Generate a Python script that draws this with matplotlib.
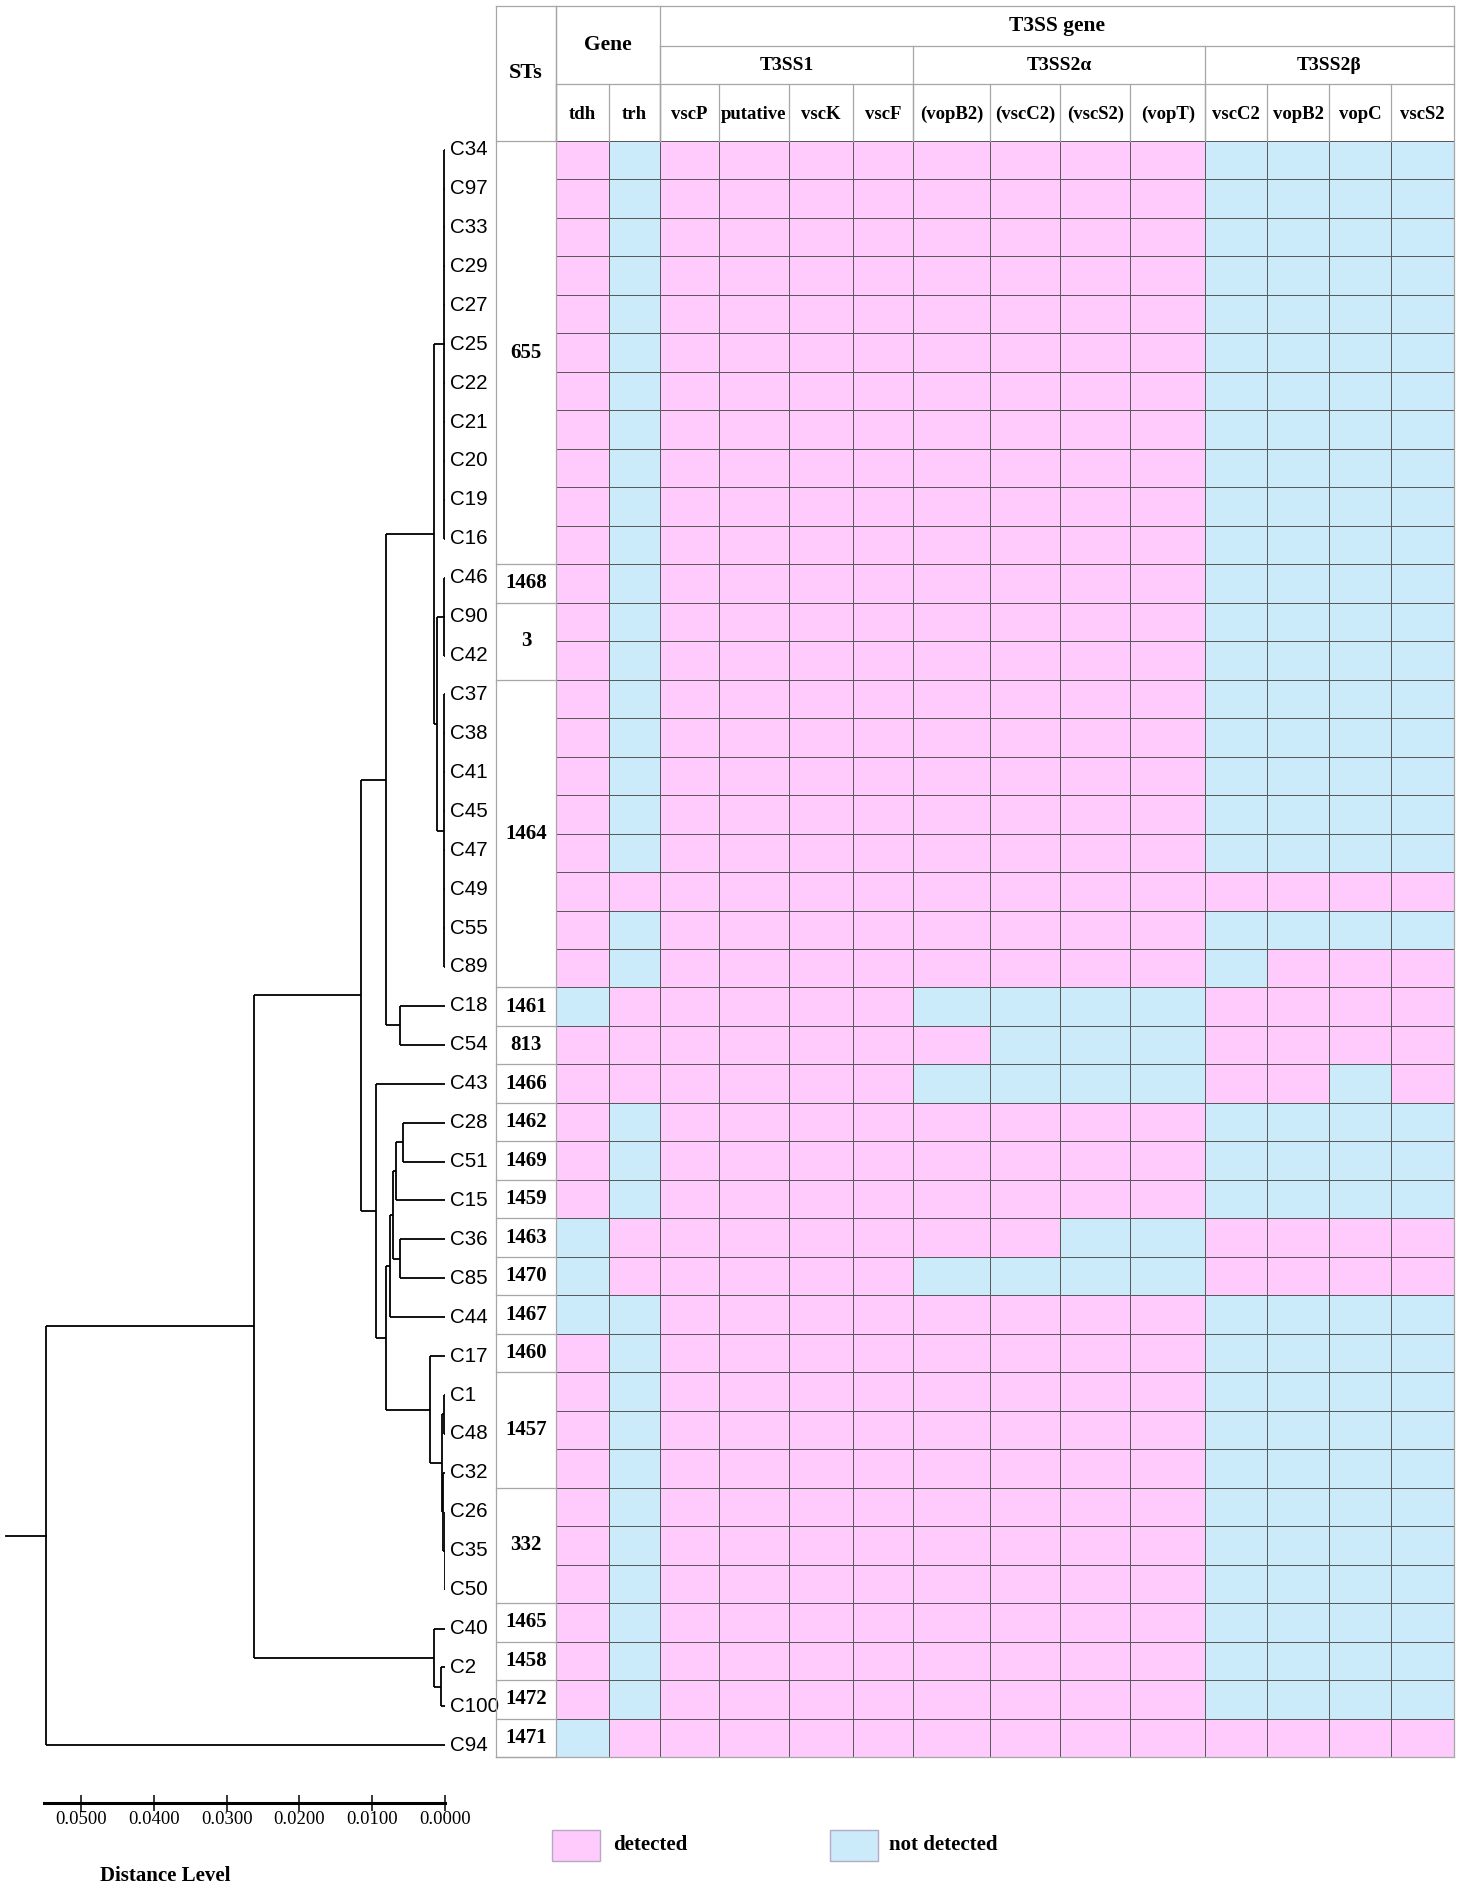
import numpy as np
import matplotlib
matplotlib.use("Agg")
import matplotlib.pyplot as plt
from matplotlib.colors import ListedColormap
from matplotlib.patches import Rectangle

# ---- data ----
strains = ["C34", "C97", "C33", "C29", "C27", "C25", "C22", "C21", "C20", "C19", "C16",
           "C46", "C90", "C42", "C37", "C38", "C41", "C45", "C47", "C49", "C55", "C89",
           "C18", "C54", "C43", "C28", "C51", "C15", "C36", "C85", "C44", "C17",
           "C1", "C48", "C32", "C26", "C35", "C50", "C40", "C2", "C100", "C94"]

sts = ["655"] * 11 + ["1468"] + ["3"] * 2 + ["1464"] * 8 + \
      ["1461", "813", "1466", "1462", "1469", "1459", "1463", "1470", "1467", "1460"] + \
      ["1457"] * 3 + ["332"] * 3 + ["1465", "1458", "1472", "1471"]

genes = ["tdh", "trh", "vscP", "putative", "vscK", "vscF",
         "(vopB2)", "(vscC2)", "(vscS2)", "(vopT)",
         "vscC2", "vopB2", "vopC", "vscS2"]
top_groups = [("Gene", 2), ("T3SS gene", 12)]
sub_groups = [("T3SS1", 4), ("T3SS2\u03b1", 4), ("T3SS2\u03b2", 4)]

# 1 = detected, 0 = not detected (one string per strain, gene order as above)
detect = ["10111111110000"] * 19 + \
         ["11111111111111",   # C49
          "10111111110000",   # C55
          "10111111110111",   # C89
          "01111100001111",   # C18
          "11111110001111",   # C54
          "11111100001101",   # C43
          "10111111110000",   # C28
          "10111111110000",   # C51
          "10111111110000",   # C15
          "01111111001111",   # C36
          "01111100001111",   # C85
          "00111111110000"] + \
         ["10111111110000"] * 10 + \
         ["01111111111111"]   # C94

# dendrogram: (distance, [children]), leaves are strain names
tree = (0.0548, [
    (0.0262, [
        (0.0116, [
            (0.0081, [
                (0.0015, [
                    (0.00015, ["C34", "C97", "C33", "C29", "C27", "C25", "C22", "C21", "C20", "C19", "C16"]),
                    (0.0011, [
                        (0.00015, ["C46", "C90", "C42"]),
                        (0.00015, ["C37", "C38", "C41", "C45", "C47", "C49", "C55", "C89"]),
                    ]),
                ]),
                (0.0062, ["C18", "C54"]),
            ]),
            (0.0095, [
                "C43",
                (0.0081, [
                    (0.0076, [
                        (0.0072, [
                            (0.0067, [(0.0058, ["C28", "C51"]), "C15"]),
                            (0.0062, ["C36", "C85"]),
                        ]),
                        "C44",
                    ]),
                    (0.0020, [
                        "C17",
                        (0.00036, [
                            (0.0001, ["C1", "C48"]),
                            (0.00022, ["C32", (0.00006, ["C26", "C35", "C50"])]),
                        ]),
                    ]),
                ]),
            ]),
        ]),
        (0.0015, ["C40", (0.0006, ["C2", "C100"])]),
    ]),
    "C94",
])

# ---- style / layout ----
W, H = 1460, 1885
pink = "#fecbfc"
blue = "#cbebfb"
serif = "Liberation Serif"
sans = "Liberation Sans"
col_w = [60.3, 53.1, 50.6, 59.2, 69.9, 63.9, 60.3, 77.2, 70.0, 70.0, 74.8, 61.5, 62.7, 61.5, 62.8]
head_h = [40, 38.4, 56.6]
row_h = 38.476
tab_x0, tab_y0 = 495.8, 6
leaf_y0, leaf_pitch = 149.6, 38.92
px_per_dist = 7280.0
dend_right = 445
axis_y = 1803

def rect(x0, y0, x1, y1):
    return [x0 / W, 1 - y1 / H, (x1 - x0) / W, (y1 - y0) / H]

fig = plt.figure(figsize=(W / 100, H / 100), dpi=100)

# ---- dendrogram ----
top = leaf_y0 - 0.5 * leaf_pitch
ax_d = fig.add_axes(rect(0, top, dend_right, axis_y))
ax_d.set_xlim(dend_right / px_per_dist, 0)
ax_d.set_ylim(-0.5 + (axis_y - top) / leaf_pitch, -0.5)

order = []
lw = 1.3

def draw(node):
    if isinstance(node, str):
        order.append(node)
        return len(order) - 1, 0.0
    h, kids = node
    pts = [draw(k) for k in kids]
    ys = [p[0] for p in pts]
    for y, x in pts:
        ax_d.plot([x, h], [y, y], color="black", lw=lw, solid_capstyle="butt")
    ax_d.plot([h, h], [min(ys), max(ys)], color="black", lw=lw, solid_capstyle="butt")
    return (min(ys) + max(ys)) / 2, h

ry, rh = draw(tree)
ax_d.plot([rh, rh + 0.0055], [ry, ry], color="black", lw=lw)

for i, name in enumerate(order):
    ax_d.annotate(name, xy=(0, i), xytext=(3.4, 0), textcoords="offset points",
                  ha="left", va="center", fontsize=14.8, family=sans, annotation_clip=False)

for s in ["top", "left", "right"]:
    ax_d.spines[s].set_visible(False)
ax_d.spines["bottom"].set_linewidth(2.2)
ax_d.spines["bottom"].set_bounds(0, 0.0551)
ax_d.set_yticks([])
ax_d.set_xticks(np.arange(0, 0.051, 0.01))
ax_d.xaxis.set_major_formatter(plt.FuncFormatter(lambda v, p: f"{v:.4f}"))
ax_d.tick_params(axis="x", direction="inout", length=11, width=1.1, pad=0.5, labelsize=13.5)
for t in ax_d.get_xticklabels():
    t.set_family(serif)
ax_d.patch.set_visible(False)
fig.text(165 / W, 1 - 1876 / H, "Distance Level", ha="center", va="center",
         fontsize=15, fontweight="bold", family=serif)

# ---- table ----
xe = np.concatenate([[0], np.cumsum(col_w)])
he = np.concatenate([[0], np.cumsum(head_h)])
nrow = len(strains)
ye = he[-1] + np.arange(nrow + 1) * row_h
tw, th = xe[-1], ye[-1]
ax_t = fig.add_axes(rect(tab_x0, tab_y0, tab_x0 + tw, tab_y0 + th))
ax_t.set_xlim(0, tw)
ax_t.set_ylim(th, 0)
ax_t.axis("off")

mat = np.array([[int(c) for c in r] for r in detect])
ax_t.pcolormesh(xe[1:], ye, mat, cmap=ListedColormap([blue, pink]), vmin=0, vmax=1,
                edgecolors="#5a5a5a", linewidth=0.7)

hc = "#a6a6a6"
hl = dict(color=hc, lw=0.9, clip_on=False)
ax_t.plot([0, tw], [0, 0], **hl)
ax_t.plot([0, tw], [th, th], **hl)
ax_t.plot([0, 0], [0, th], **hl)
ax_t.plot([xe[1], xe[1]], [0, th], **hl)
ax_t.plot([tw, tw], [0, th], **hl)
ax_t.plot([0, xe[1]], [he[3], he[3]], **hl)
ax_t.text(xe[1] / 2, he[3] / 2, "STs", ha="center", va="center",
          fontsize=16, fontweight="bold", family=serif)

# top group row
c = 1
for name, n in top_groups:
    x0, x1 = xe[c], xe[c + n]
    ax_t.plot([x0, x0], [0, he[3]], **hl)
    if name == "Gene":
        ax_t.text((x0 + x1) / 2, he[2] / 2, name, ha="center", va="center",
                  fontsize=15.5, fontweight="bold", family=serif)
    else:
        ax_t.text((x0 + x1) / 2, he[1] / 2, name, ha="center", va="center",
                  fontsize=15.5, fontweight="bold", family=serif)
        ax_t.plot([x0, x1], [he[1], he[1]], **hl)
    c += n
ax_t.plot([xe[1], tw], [he[2], he[2]], **hl)

# sub group row
c = 1 + top_groups[0][1]
for name, n in sub_groups:
    x0, x1 = xe[c], xe[c + n]
    ax_t.plot([x0, x0], [he[1], he[3]], **hl)
    ax_t.text((x0 + x1) / 2, (he[1] + he[2]) / 2, name, ha="center", va="center",
              fontsize=14, fontweight="bold", family=serif)
    c += n

# gene names row
for j, g in enumerate(genes):
    x0, x1 = xe[j + 1], xe[j + 2]
    ax_t.plot([x0, x0], [he[2], he[3]], **hl)
    ax_t.text((x0 + x1) / 2, (he[2] + he[3]) / 2 + 2, g, ha="center", va="center",
              fontsize=13.5, fontweight="bold", family=serif)

# ST groups
start = 0
for i in range(1, nrow + 1):
    if i == nrow or sts[i] != sts[start]:
        ax_t.plot([0, xe[1]], [ye[i], ye[i]], **hl)
        ax_t.text(xe[1] / 2, (ye[start] + ye[i]) / 2, sts[start], ha="center", va="center",
                  fontsize=15, fontweight="bold", family=serif)
        start = i

# ---- legend ----
leg = [("detected", pink, 552, 613), ("not detected", blue, 830, 889)]
for lab, col, bx, tx in leg:
    fig.add_artist(Rectangle((bx / W, 1 - 1861 / H), 48 / W, 31 / H, transform=fig.transFigure,
                             facecolor=col, edgecolor="#b5aac5", lw=1))
    fig.text(tx / W, 1 - 1845 / H, lab, ha="left", va="center",
             fontsize=15, fontweight="bold", family=serif)

fig.savefig("out.png", dpi=100)
